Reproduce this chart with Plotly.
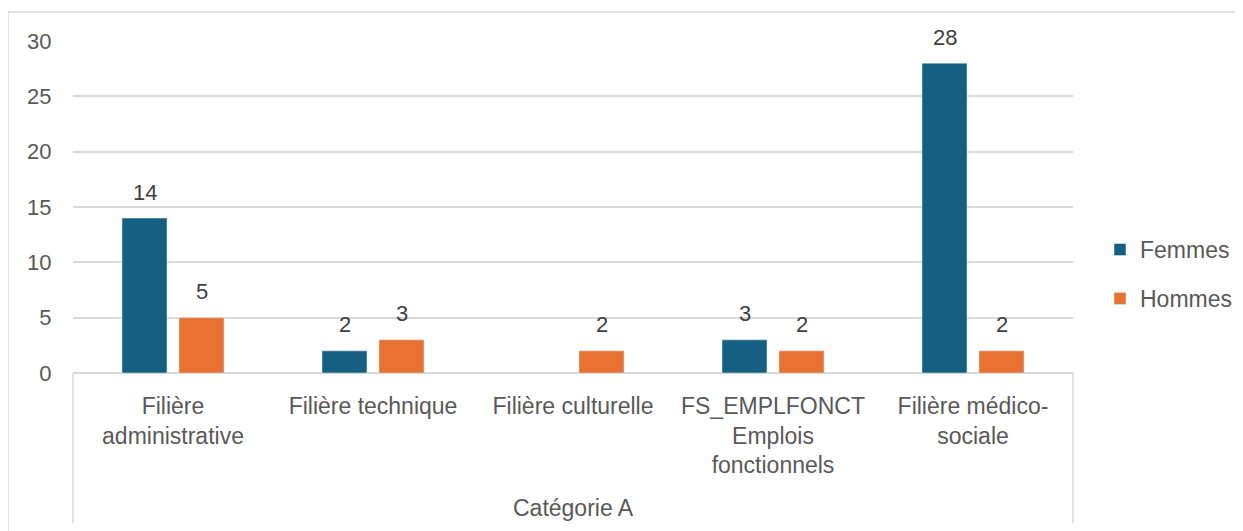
import plotly.graph_objects as go

# data
categories = ["Filière<br>administrative", "Filière technique", "Filière culturelle",
              "FS_EMPLFONCT<br>Emplois<br>fonctionnels", "Filière médico-<br>sociale"]
femmes = [14, 2, None, 3, 28]
hommes = [5, 3, 2, 2, 2]
group_label = "Catégorie A"

blue = "#156082"
orange = "#E97132"
grey_txt = "#595959"
grid = "#d9d9d9"
font_family = "Liberation Sans, Arial, sans-serif"

fig = go.Figure()
fig.add_trace(go.Bar(name="Femmes", x=categories, y=femmes, marker_color=blue,
                     legendgroup="f"))
fig.add_trace(go.Bar(name="Hommes", x=categories, y=hommes, marker_color=orange,
                     legendgroup="h"))

# value labels above the bars
for vals, shift in [(femmes, -28.5), (hommes, 28.5)]:
    for c, v in zip(categories, vals):
        if v is None:
            continue
        fig.add_annotation(x=c, y=v, text=str(v), showarrow=False, xshift=shift,
                           yshift=26, font=dict(size=22, color="#404040", family=font_family))

# group label under the category axis
fig.add_annotation(x=0.5, y=-0.407, xref="paper", yref="paper", text=group_label,
                   showarrow=False, yanchor="middle",
                   font=dict(size=23, color=grey_txt, family=font_family))

# axis box lines and outer chart border
fig.add_shape(type="line", xref="paper", yref="paper", x0=0, x1=0, y0=0, y1=-0.452,
              line=dict(color=grid, width=1.5))
fig.add_shape(type="line", xref="paper", yref="paper", x0=1, x1=1, y0=0, y1=-0.452,
              line=dict(color=grid, width=1.5))
fig.add_shape(type="rect", xref="paper", yref="paper", x0=-0.065, x1=1.3, y0=-0.7, y1=1.0873,
              line=dict(color=grid, width=1.5))

# the page body adds 8px, so margins are shifted by that amount
fig.update_layout(
    width=1243, height=531,
    margin=dict(l=65, r=178, t=33, b=166),
    paper_bgcolor="white", plot_bgcolor="white",
    barmode="group", bargap=0.43, bargroupgap=0.21,
    font=dict(family=font_family, color=grey_txt, size=22),
    showlegend=True,
    legend=dict(x=1.027, y=0.298, yanchor="middle", xanchor="left",
                traceorder="grouped", tracegroupgap=16,
                font=dict(size=23, color=grey_txt)),
    xaxis=dict(showgrid=False, showline=False, zeroline=False,
               ticks="outside", ticklen=12, tickcolor="rgba(0,0,0,0)",
               tickfont=dict(size=23, color=grey_txt), tickangle=0),
    yaxis=dict(range=[0, 30], dtick=5, showgrid=True, gridcolor=grid, gridwidth=1.5,
               zeroline=True, zerolinecolor=grid, zerolinewidth=1.5, showline=False,
               ticks="outside", ticklen=16, tickcolor="rgba(0,0,0,0)",
               tickfont=dict(size=22, color=grey_txt)),
)

fig.write_html("out.html")
